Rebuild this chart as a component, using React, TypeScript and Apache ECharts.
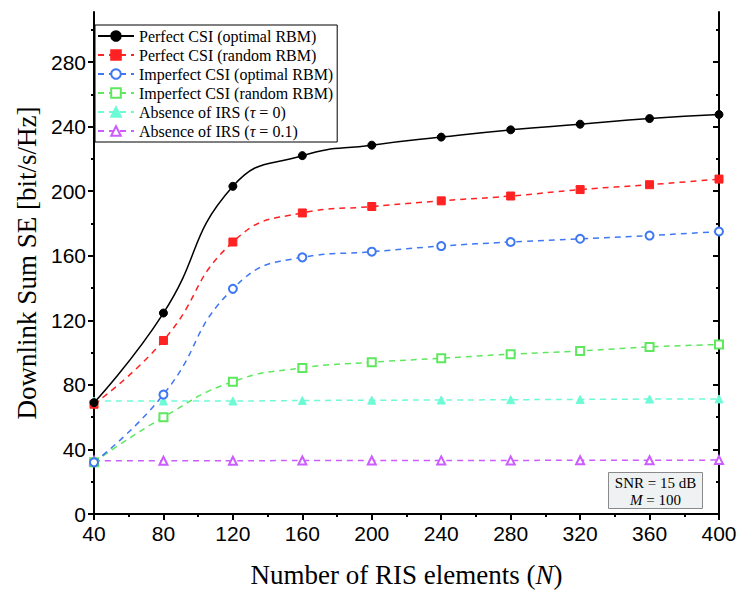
import React, { useEffect, useRef } from "react";
import * as echarts from "echarts";

const xValues = [40, 80, 120, 160, 200, 240, 280, 320, 360, 400];
const perfectOptimal = [69, 124.5, 203, 222, 228.5, 233.5, 238, 241.5, 245, 247.5];
const perfectRandom = [68, 107.5, 168.5, 186.5, 190.5, 194, 197, 201, 204, 207.5];
const imperfectOptimal = [32, 74, 139.5, 159, 162.5, 166, 168.5, 170.5, 172.5, 175];
const imperfectRandom = [32, 60, 82, 90.5, 94, 96.5, 99, 101, 103.5, 105];
const noIrsTau0 = [70, 70, 70, 70.3, 70.5, 70.6, 70.8, 71, 71.2, 71.3];
const noIrsTau01 = [33, 33, 33, 33.1, 33.1, 33.2, 33.2, 33.3, 33.3, 33.4];
const yTickValues = [0, 40, 80, 120, 160, 200, 240, 280];

const names = [
  "Perfect CSI (optimal RBM)",
  "Perfect CSI (random RBM)",
  "Imperfect CSI (optimal RBM)",
  "Imperfect CSI (random RBM)",
  "Absence of IRS (τ = 0)",
  "Absence of IRS (τ = 0.1)",
];

const SERIF = "Liberation Serif, DejaVu Serif, serif";
const SANS = "Liberation Sans, Arial, sans-serif";

function pair(ys: number[]) {
  return xValues.map((x, i) => [x, ys[i]]);
}

export default function App() {
  const ref = useRef<HTMLDivElement>(null);
  useEffect(() => {
    if (!ref.current) return;
    const chart = echarts.init(ref.current, undefined, { renderer: "svg" });
    const mk = (
      name: string,
      data: number[],
      color: string,
      symbol: string,
      dashed: boolean,
      z: number
    ) => ({
      name,
      type: "line",
      data: pair(data),
      smooth: 0.5,
      symbol,
      symbolSize: 8,
      z,
      lineStyle: { color, width: 1.5, type: dashed ? [6, 5] : "solid" },
      itemStyle: { color, borderColor: color, borderWidth: 1 },
      emphasis: { disabled: true },
    });
    const axisCommon = {
      type: "value",
      axisLine: { show: true, lineStyle: { color: "#000", width: 2 } },
      splitLine: { show: false },
    };
    chart.setOption({
      animation: false,
      backgroundColor: "#fff",
      grid: { left: 94, right: 28, top: 12, bottom: 82 },
      xAxis: [
        {
          ...axisCommon,
          min: 40,
          max: 400,
          interval: 40,
          position: "bottom",
          axisTick: { show: true, length: 6, lineStyle: { color: "#000", width: 2 } },
          minorTick: { show: true, splitNumber: 2, length: 3, lineStyle: { color: "#000", width: 2 } },
          axisLabel: { color: "#000", fontFamily: SANS, fontSize: 21, margin: 9 },
          name: "Number of RIS elements ({i|N})",
          nameLocation: "middle",
          nameGap: 47,
          nameTextStyle: {
            color: "#000",
            fontFamily: SERIF,
            fontSize: 27,
            rich: { i: { fontStyle: "italic", fontFamily: SERIF, fontSize: 27, color: "#000" } },
          },
        },
        {
          ...axisCommon,
          min: 40,
          max: 400,
          interval: 40,
          position: "top",
          axisTick: { show: true, inside: true, length: 6, lineStyle: { color: "#000", width: 2 } },
          minorTick: { show: true, splitNumber: 2, length: 3, lineStyle: { color: "#000", width: 2 } },
          axisLabel: { show: false },
        },
      ],
      yAxis: [
        {
          ...axisCommon,
          min: 0,
          max: 311,
          interval: 40,
          position: "left",
          axisTick: { show: true, length: 6, customValues: yTickValues, lineStyle: { color: "#000", width: 2 } },
          minorTick: { show: true, splitNumber: 2, length: 3, lineStyle: { color: "#000", width: 2 } },
          axisLabel: { color: "#000", fontFamily: SANS, fontSize: 21, margin: 8, customValues: yTickValues },
          name: "Downlink Sum SE [bit/s/Hz]",
          nameLocation: "middle",
          nameGap: 51,
          nameTextStyle: { color: "#000", fontFamily: SERIF, fontSize: 27 },
        },
        {
          ...axisCommon,
          min: 0,
          max: 311,
          interval: 40,
          position: "right",
          axisTick: { show: true, inside: true, length: 6, customValues: yTickValues, lineStyle: { color: "#000", width: 2 } },
          minorTick: { show: true, splitNumber: 2, length: 3, lineStyle: { color: "#000", width: 2 } },
          axisLabel: { show: false },
        },
      ],
      legend: {
        orient: "vertical",
        left: 95,
        top: 25,
        data: names,
        backgroundColor: "#fff",
        borderColor: "#000",
        borderWidth: 1,
        borderRadius: 0,
        padding: [3, 4, 3, 2],
        itemWidth: 36,
        itemHeight: 12,
        itemGap: 3,
        formatter: (n: string) => n.replace("τ", "{i|τ}"),
        textStyle: {
          color: "#000",
          fontFamily: SERIF,
          fontSize: 16,
          lineHeight: 16,
          rich: { i: { fontStyle: "italic", fontFamily: SERIF, fontSize: 16, lineHeight: 16, color: "#000" } },
        },
      },
      graphic: [
        {
          type: "group",
          left: 608,
          top: 472,
          children: [
            {
              type: "rect",
              shape: { x: 0, y: 0, width: 94, height: 36 },
              style: { fill: "#eef2f2", stroke: "#8a8a8a", lineWidth: 1 },
            },
            {
              type: "text",
              x: 47,
              y: 10,
              style: {
                text: "SNR = 15 dB",
                fill: "#000",
                font: `15px ${SERIF}`,
                align: "center",
                verticalAlign: "middle",
              },
            },
            {
              type: "text",
              x: 47,
              y: 27,
              style: {
                text: "{i|M} = 100",
                fill: "#000",
                font: `15px ${SERIF}`,
                align: "center",
                verticalAlign: "middle",
                rich: { i: { fontStyle: "italic", fontFamily: SERIF, fontSize: 15, fill: "#000" } },
              },
            },
          ],
        },
      ],
      series: [
        mk(names[5], noIrsTau01, "#cc5cff", "emptyTriangle", true, 2),
        mk(names[4], noIrsTau0, "#6dfbd6", "triangle", true, 3),
        mk(names[3], imperfectRandom, "#5ee85e", "emptyRect", true, 4),
        mk(names[2], imperfectOptimal, "#3f78f2", "emptyCircle", true, 5),
        mk(names[1], perfectRandom, "#ff2222", "rect", true, 6),
        mk(names[0], perfectOptimal, "#000000", "circle", false, 7),
      ],
    });
    return () => chart.dispose();
  }, []);
  return (
    <div
      ref={ref}
      style={{ position: "fixed", left: 0, top: 0, width: 747, height: 596, background: "#fff" }}
    />
  );
}
